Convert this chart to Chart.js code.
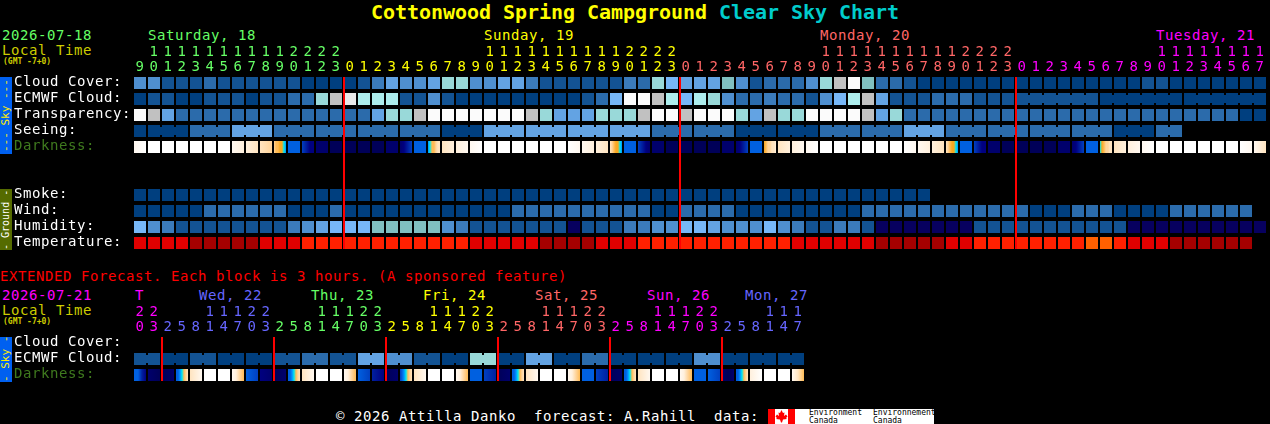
<!DOCTYPE html>
<html>
<head>
<meta charset="utf-8">
<title>Cottonwood Spring Campground Clear Sky Chart</title>
<script src="https://cdn.jsdelivr.net/npm/chart.js@4"></script>
<style>
  html, body { margin: 0; padding: 0; background: #000; width: 1270px; height: 424px; overflow: hidden; }
  body { position: relative; font-family: "DejaVu Sans Mono", monospace; font-size: 14px; letter-spacing: 0.57px; color: #fff; }
  canvas { position: absolute; left: 0; }
  .t { position: absolute; line-height: 16px; white-space: pre; }
  .band { position: absolute; left: 0; width: 12px; writing-mode: vertical-rl; transform: rotate(180deg);
          text-align: center; line-height: 12px; font-size: 11px; letter-spacing: 0; white-space: pre; }
  .small { font-size: 8px; font-weight: bold; letter-spacing: 0; }
</style>
</head>
<body>
<div class="t" style="left:371px;top:2px;font-size:20px;font-weight:bold;line-height:20px;letter-spacing:-0.04px;color:#ffff00">Cottonwood Spring Campground <span style="color:#00cccc">Clear Sky Chart</span></div>

<div class="t" style="left:2px;top:27px;color:#66ff66">2026-07-18</div>
<div class="t" style="left:2px;top:42px;color:#cccc00">Local Time</div>
<div class="t small" style="left:3px;top:54px;color:#cccc00">(GMT -7+0)</div>
<div class="t" style="left:148px;top:27px;color:#66ff66">Saturday, 18</div>
<div class="t" style="left:484px;top:27px;color:#ffff00">Sunday, 19</div>
<div class="t" style="left:820px;top:27px;color:#ff6666">Monday, 20</div>
<div class="t" style="left:1156px;top:27px;color:#ff00ff">Tuesday, 21</div>
<div class="band" style="top:77px;height:77px;background:#0060f0;color:#ffee00">--- Sky ---</div>
<div class="band" style="top:189px;height:61px;background:#556b00;color:#fff;font-size:10px">- Ground -</div>

<div class="t" style="left:0;top:268px;color:#ff0000">EXTENDED Forecast. Each block is 3 hours. (A sponsored feature)</div>
<div class="t" style="left:2px;top:287px;color:#ff00ff">2026-07-21</div>
<div class="t" style="left:2px;top:302px;color:#cccc00">Local Time</div>
<div class="t small" style="left:3px;top:314px;color:#cccc00">(GMT -7+0)</div>
<div class="t" style="left:135px;top:287px;color:#ff00ff">T</div>
<div class="t" style="left:199px;top:287px;color:#6666ff">Wed, 22</div>
<div class="t" style="left:311px;top:287px;color:#66ff66">Thu, 23</div>
<div class="t" style="left:423px;top:287px;color:#ffff00">Fri, 24</div>
<div class="t" style="left:535px;top:287px;color:#ff6666">Sat, 25</div>
<div class="t" style="left:647px;top:287px;color:#ff00ff">Sun, 26</div>
<div class="t" style="left:745px;top:287px;color:#6666ff">Mon, 27</div>
<div class="band" style="top:337px;height:45px;background:#0060f0;color:#ffee00">- Sky -</div>

<div class="t" style="left:336px;top:408px">© 2026 Attilla Danko  forecast: A.Rahill  data:</div>
<div style="position:absolute;left:768px;top:409px;width:166px;height:15px;background:#fff;overflow:hidden;letter-spacing:0">
  <div style="position:absolute;left:0;top:0;width:7px;height:15px;background:#ff0000"></div>
  <div style="position:absolute;left:20px;top:0;width:7px;height:15px;background:#ff0000"></div>
  <svg style="position:absolute;left:7px;top:1px" width="13" height="13" viewBox="0 0 13 13"><polygon fill="#ff0000" points="6.5,0 8,3 9.5,2.5 9,6 11,4.5 12.5,6.5 11,8 12,9 8,9.5 7,12.5 6,12.5 5,9.5 1,9 2,8 .5,6.5 2,4.5 4,6 3.5,2.5 5,3"/></svg>
  <div style="position:absolute;left:41px;top:0;font-size:8px;line-height:7.5px;color:#000;white-space:pre">Environment
Canada</div>
  <div style="position:absolute;left:105px;top:0;font-size:8px;line-height:7.5px;color:#000;white-space:pre">Environnement
Canada</div>
</div>

<canvas id="mainChart" width="1270" height="251" style="top:0;width:1270px;height:251px"></canvas>
<canvas id="extChart" width="1270" height="103" style="top:280px;width:1270px;height:103px"></canvas>

<script>
// Hourly forecast (one cell per hour)
const hours = [9, 10, 11, 12, 13, 14, 15, 16, 17, 18, 19, 20, 21, 22, 23,
  0, 1, 2, 3, 4, 5, 6, 7, 8, 9, 10, 11, 12, 13, 14, 15, 16, 17, 18, 19, 20, 21, 22, 23,
  0, 1, 2, 3, 4, 5, 6, 7, 8, 9, 10, 11, 12, 13, 14, 15, 16, 17, 18, 19, 20, 21, 22, 23,
  0, 1, 2, 3, 4, 5, 6, 7, 8, 9, 10, 11, 12, 13, 14, 15, 16, 17];

const rowLabels = ["Cloud Cover:", "ECMWF Cloud:", "Transparency:", "Seeing:", "Darkness:", "", "",
  "Smoke:", "Wind:", "Humidity:", "Temperature:"];

const cloudCover = [4, 4, 1, 1, 1, 2, 1, 1, 1, 1, 1,
  1, 0, 0, 0, 0, 1, 3, 5, 4, 4,
  5, 8, 8, 4, 4, 5, 5, 3, 1, 1,
  1, 1, 1, 1, 3, 2, 8, 6, 5, 5,
  5, 7, 4, 1, 2, 2, 2, 4, 8, 10,
  12, 7, 2, 2, 1, 0, 0, 0, 0, 0,
  0, 0, 0, 0, 0, 0, 0, 0, 0, 0,
  0, 1, 1, 0, 0, 0, 0, 0, 0, 0];

const ecmwfCloud = [0, 1, 1, 0, 0, 1, 1, 1, 0, 1, 1,
  2, 2, 8, 10, 11, 9, 9, 9, 1, 1,
  4, 1, 0, 0, 0, 0, 0, 0, 0, 0,
  0, 1, 2, 6, 12, 12, 10, 9, 6, 9,
  8, 4, 2, 2, 3, 2, 2, 1, 4, 6,
  9, 10, 5, 1, 1, 1, 2, 2, 2, 1,
  1, 1, 1, 1, 1, 1, 1, 1, 0, 0,
  0, 0, 0, 0, 0, 0, 0, 0, 0, 0];
const ecmwfRunStart = 63;
const ecmwfRuns = [6, 6, 6];

const transparency = [12, 10, 5, 2, 2, 2, 2, 2, 2, 2, 2,
  2, 2, 2, 2, 2, 2, 5, 8, 8, 10,
  12, 12, 12, 12, 12, 12, 12, 10, 8, 5,
  5, 5, 8, 8, 8, 10, 12, 12, 10, 12,
  12, 12, 8, 5, 10, 8, 8, 12, 12, 12,
  12, 10, 5, 8, 2, 2, 2, 2, 2, 2,
  2, 2, 2, 2, 2, 2, 2, 2, 2, 2,
  2, 2, 2, 2, 2, 2, 2, 2, 0, 0];

const seeing = [0, 0, 0, 0, 2, 2, 2, 5, 5, 5, 2,
  2, 2, 2, 2, 2, 2, 2, 2, 2, 2,
  2, 0, 0, 0, 5, 5, 5, 5, 5, 5,
  5, 5, 5, 5, 5, 5, 2, 2, 2, 2,
  2, 2, 0, 0, 0, 0, 0, 0, 2, 2,
  2, 2, 2, 2, 5, 5, 5, 2, 2, 2,
  2, 2, 2, 2, 2, 2, 2, 2, 2, 0,
  0, 0, 2, 2];
const seeingRuns = [1, 3, 3, 3, 3, 3, 3, 3, 3, 3, 3, 3, 3, 3, 3, 3, 3, 3, 3, 3, 3, 3, 3, 3, 3, 2];

const smoke = [0, 0, 0, 0, 0, 0, 0, 0, 0, 0, 0,
  0, 0, 0, 0, 0, 0, 0, 0, 0, 0,
  0, 0, 0, 0, 0, 0, 0, 0, 0, 0,
  0, 0, 0, 0, 0, 0, 0, 0, 0, 0,
  0, 0, 0, 0, 0, 0, 0, 0, 0, 0,
  0, 0, 0, 0, 0, 0];

const wind = [0, 0, 0, 0, 0, 2, 2, 2, 2, 2, 2,
  0, 0, 0, 2, 0, 0, 0, 0, 0, 0,
  0, 0, 0, 0, 0, 0, 2, 2, 2, 2,
  2, 2, 2, 2, 2, 2, 0, 0, 2, 2,
  2, 2, 0, 0, 0, 0, 0, 0, 0, 0,
  0, 2, 2, 2, 2, 2, 2, 2, 2, 2,
  2, 2, 2, 0, 0, 0, 2, 2, 2, 0,
  0, 0, 0, 2, 2, 2, 2, 2, 2];

const humidity = [6, 4, 3, 1, 1, 1, 1, 1, 1, 1, 1,
  3, 4, 5, 6, 6, 6, 7, 7, 7, 7,
  7, 4, 3, 1, 1, 1, 1, 1, 1, 1,
  13, 1, 1, 1, 3, 3, 4, 4, 6, 6,
  5, 4, 4, 4, 6, 4, 3, 1, 1, 3,
  3, 1, 13, 13, 13, 13, 13, 13, 13, 1,
  1, 1, 1, 1, 1, 1, 1, 1, 1, 1,
  13, 13, 13, 13, 13, 13, 13, 13, 13, 13];

const temperature = [1, 1, 1, 1, 0, 0, 0, 0, 0, 1, 1,
  1, 2, 2, 2, 2, 2, 2, 2, 2, 2,
  2, 2, 2, 1, 1, 1, 1, 1, 0, 0,
  0, 0, 1, 1, 1, 2, 2, 2, 2, 2,
  2, 2, 2, 2, 2, 2, 1, 1, 1, 1,
  1, 1, 0, 0, 0, 0, 0, 1, 1, 2,
  2, 2, 2, 2, 2, 2, 2, 3, 3, 2,
  1, 1, 1, 0, 0, 0, 0, 0, 0];

// Darkness changes inside a block, so each block lists its levels from left to right
const darkness = [[1, 0], [0, 0], [0, 0], [0, 0], [0, 0], [0, 0], [0, 0], [1, 2], [2, 3], [3, 4],
  [4, 5, 5, 6, 6, 7, 8], [9, 9], [10, 11, 12, 12], [13, 13], [14, 14], [14, 14], [14, 14], [14, 14], [13, 13], [13, 12, 11, 10],
  [9, 9], [8, 7, 5, 5, 4, 3, 3], [3, 2], [2, 1], [1, 0], [0, 0], [0, 0], [0, 0], [0, 0], [0, 0],
  [0, 0], [0, 1], [1, 2], [2, 3], [3, 4, 5, 6, 6, 7, 8], [9, 9], [10, 11, 12, 13], [13, 13], [14, 14], [14, 14],
  [14, 14], [14, 14], [13, 13], [13, 12, 11, 10], [9, 9], [6, 5, 4, 4, 3, 3, 2], [3, 2], [2, 1], [1, 0], [0, 0],
  [0, 0], [0, 0], [0, 0], [0, 0], [0, 0], [0, 1], [1, 2], [2, 3], [3, 4, 5, 6, 6, 7, 8], [9, 9],
  [10, 11, 12, 12], [13, 13], [14, 14], [14, 14], [14, 14], [14, 14], [13, 13], [13, 12, 11, 10], [9, 9], [7, 6, 5, 4, 4, 3, 3],
  [3, 2], [2, 1], [1, 0], [0, 0], [0, 0], [0, 0], [0, 0], [0, 0], [0, 0], [0, 1], [1, 3]];

// Extended forecast, labelled every 3 hours
const extHours = [20, 23, 2, 5, 8, 11, 14, 17, 20, 23, 2, 5, 8, 11, 14, 17, 20, 23, 2, 5, 8, 11, 14, 17,
  20, 23, 2, 5, 8, 11, 14, 17, 20, 23, 2, 5, 8, 11, 14, 17, 20, 23, 2, 5, 8, 11, 14, 17];

const extRowLabels = ["Cloud Cover:", "ECMWF Cloud:", "Darkness:"];

const extEcmwf = [1, 1, 0, 0, 1, 1, 0, 0, 0, 0, 1, 1, 2, 2, 1, 1, 5, 5, 4, 4, 1, 1, 0, 0,
  8, 8, 0, 0, 5, 5, 0, 0, 2, 2, 0, 0, 0, 0, 0, 0, 4, 4, 0, 0, 0, 0, 0, 0];
const extEcmwfRuns = [2, 2, 2, 2, 2, 2, 2, 2, 2, 2, 2, 2, 2, 2, 2, 2, 2, 2, 2, 2, 2, 2, 2, 2];

const extDarkness = [[9, 9, 11, 12], [13, 14], [14, 13], [9, 9, 8, 7, 5, 4, 3], [3, 1], [0, 0], [0, 0], [1, 2, 4, 5],
  [9, 10], [12, 13], [14, 13], [9, 9, 8, 7, 5, 4, 3], [3, 1], [0, 0], [0, 0], [1, 2, 4, 5],
  [9, 10], [11, 12], [14, 13], [10, 9, 8, 7, 5, 4, 3], [3, 1], [0, 0], [0, 0], [1, 2, 4, 5],
  [9, 9], [10, 11], [14, 13], [9, 9, 8, 7, 5, 4, 3], [3, 1], [0, 0], [0, 0], [1, 2, 4, 5],
  [9, 9], [10, 11], [14, 13], [9, 9, 8, 7, 5, 4, 3], [3, 1], [0, 0], [0, 0], [1, 2, 4, 5],
  [9, 9], [9, 10], [13, 14, 13], [9, 9, 8, 7, 5, 4, 3], [2, 0], [0, 0], [0, 0], [1, 3, 5]];

// Colour keys
const cloudShades = ["#003f7f", "#135393", "#2b6bab", "#3b7bbb", "#4f8fcf", "#63a3e3", "#77b7f7",
  "#80c0c0", "#99d9d9", "#adeded", "#c1c1c1", "#e9e9e9", "#fbfbfb", "#07005f"];
const temperatureShades = ["#a50000", "#e00000", "#ff2000", "#ff6000"];
const darknessShades = ["#ffffff", "#fff8f0", "#fff0dd", "#ffe4c0", "#ffd49a", "#ffbb55", "#f8a820",
  "#00e8f0", "#0090ff", "#0060e0", "#0040c0", "#0020a0", "#000080", "#00006c", "#000058"];
const dayColors = ["#66ff66", "#ffff00", "#ff6666", "#ff00ff"];
const extDayColors = ["#ff00ff", "#6666ff", "#66ff66", "#ffff00", "#ff6666", "#ff00ff", "#6666ff"];

const cellHalf = 0.375; // 12px block in a 16px row
const linkHalf = 0.25;  // joined blocks are linked by an 8px bridge
const labelLift = 0.0625; // row labels sit 1px above the middle of their blocks

// Day number of every hour: it goes up each time the clock wraps
function dayIndexes(list) {
  let day = 0;
  return list.map((h, i) => {
    if (i > 0 && h < list[i - 1]) day++;
    return day;
  });
}

function cellRow(label, values, row, shades) {
  return {
    label,
    data: values.map((v, i) => ({ x: i, y: [row - cellHalf, row + cellHalf] })),
    backgroundColor: values.map((v) => shades[v]),
    barThickness: 12,
  };
}

// Bridges between the blocks of a forecast run
function linkRow(label, values, row, shades, runs, start) {
  const links = [];
  let i = start || 0;
  runs.forEach((n) => {
    for (let k = 0; k < n - 1; k++) links.push(i + k);
    i += n;
  });
  return {
    label,
    data: links.map((k) => ({ x: k + 0.5, y: [row - linkHalf, row + linkHalf] })),
    backgroundColor: links.map((k) => shades[values[k]]),
    barThickness: 2,
  };
}

function darknessRow(values, row) {
  return {
    label: "Darkness",
    data: values.map((v, i) => ({ x: i, y: [row - cellHalf, row + cellHalf] })),
    barThickness: 12,
    backgroundColor: (ctx) => {
      const stops = values[ctx.dataIndex];
      const px = ctx.chart.scales.x.getPixelForValue(ctx.dataIndex);
      if (!stops || !Number.isFinite(px)) return "#000";
      const g = ctx.chart.ctx.createLinearGradient(px - 6, 0, px + 6, 0);
      stops.forEach((s, k) => g.addColorStop(k / (stops.length - 1), darknessShades[s]));
      return g;
    },
  };
}

// Red midnight lines, drawn just right of the gap before the first block of a day
function midnightLines(list, lastRow) {
  const marks = [];
  list.forEach((h, i) => {
    if (i > 0 && h < list[i - 1]) marks.push(i);
  });
  return {
    label: "Midnight",
    data: marks.map((i) => ({ x: i - 0.43, y: [-cellHalf, lastRow + cellHalf] })),
    backgroundColor: "#ff0000",
    barThickness: 2,
  };
}

// Row labels keep the same character pitch as the html text
const labelSpacing = {
  id: "labelSpacing",
  beforeDraw: (chart) => { chart.ctx.letterSpacing = "0.57px"; },
};

function makeChart(id, list, days, colors, labels, axisHeight, tickPad, datasets) {
  return new Chart(document.getElementById(id), {
    type: "bar",
    data: { datasets },
    plugins: [labelSpacing],
    options: {
      responsive: false,
      devicePixelRatio: 1,
      animation: false,
      events: [],
      layout: { padding: { left: 14, right: 3, top: 0, bottom: 0 } },
      datasets: { bar: { grouped: false, inflateAmount: 0, borderWidth: 0 } },
      plugins: { legend: { display: false }, tooltip: { enabled: false }, title: { display: false } },
      scales: {
        x: {
          type: "linear",
          position: "top",
          offset: false,
          min: -0.5,
          max: 80.5,
          grid: { display: false, drawTicks: false, tickLength: 0 },
          border: { display: false },
          afterBuildTicks: (s) => { s.ticks = list.map((h, i) => ({ value: i })); },
          afterFit: (s) => {
            s.height = axisHeight;
            s.paddingLeft = 0;
            s.paddingRight = 0;
          },
          ticks: {
            autoSkip: false,
            maxRotation: 0,
            minRotation: 0,
            padding: tickPad,
            font: { family: "DejaVu Sans Mono", size: 14, lineHeight: "15px" },
            color: (ctx) => colors[days[ctx.index]],
            callback: (v, i) => {
              const h = list[i];
              return [h >= 10 ? String(Math.floor(h / 10)) : " ", String(h % 10)];
            },
          },
        },
        y: {
          type: "linear",
          reverse: true,
          min: -0.5,
          max: labels.length - 0.5,
          grid: { display: false, drawTicks: false, tickLength: 0 },
          border: { display: false },
          afterBuildTicks: (s) => { s.ticks = labels.map((l, i) => ({ value: i - labelLift })); },
          afterFit: (s) => {
            s.width = 119;
            s.paddingTop = 0;
            s.paddingBottom = 0;
          },
          ticks: {
            autoSkip: false,
            crossAlign: "far",
            padding: 0,
            font: { family: "DejaVu Sans Mono", size: 14 },
            color: (ctx) => (labels[ctx.index] === "Darkness:" ? "#3f7a1e" : "#ffffff"),
            callback: (v, i) => labels[i],
          },
        },
      },
    },
  });
}

makeChart("mainChart", hours, dayIndexes(hours), dayColors, rowLabels, 75, 0, [
  midnightLines(hours, 10),
  cellRow("Cloud Cover", cloudCover, 0, cloudShades),
  cellRow("ECMWF Cloud", ecmwfCloud, 1, cloudShades),
  linkRow("ECMWF runs", ecmwfCloud, 1, cloudShades, ecmwfRuns, ecmwfRunStart),
  cellRow("Transparency", transparency, 2, cloudShades),
  cellRow("Seeing", seeing, 3, cloudShades),
  linkRow("Seeing runs", seeing, 3, cloudShades, seeingRuns),
  darknessRow(darkness, 4),
  cellRow("Smoke", smoke, 7, cloudShades),
  cellRow("Wind", wind, 8, cloudShades),
  cellRow("Humidity", humidity, 9, cloudShades),
  cellRow("Temperature", temperature, 10, temperatureShades),
]);

makeChart("extChart", extHours, dayIndexes(extHours), extDayColors, extRowLabels, 55, 0, [
  midnightLines(extHours, 2),
  cellRow("ECMWF Cloud", extEcmwf, 1, cloudShades),
  linkRow("ECMWF runs", extEcmwf, 1, cloudShades, extEcmwfRuns),
  darknessRow(extDarkness, 2),
]);
</script>
</body>
</html>
